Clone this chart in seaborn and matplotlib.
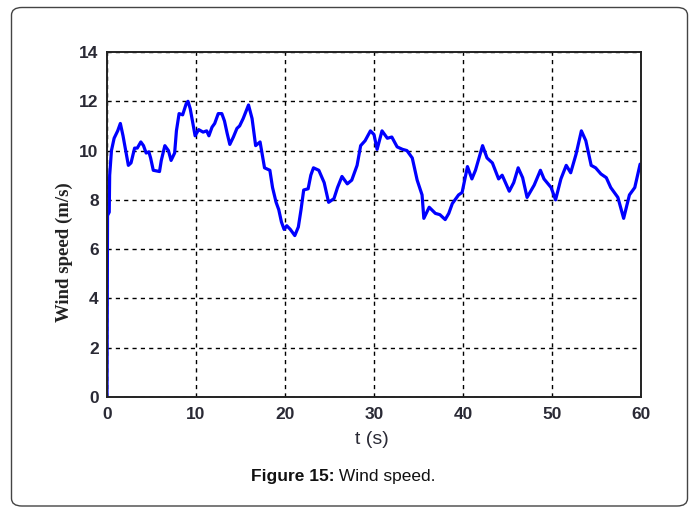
import matplotlib
matplotlib.use("Agg")
import matplotlib.pyplot as plt
import seaborn as sns
import pandas as pd
from matplotlib.patches import FancyBboxPatch

# Data
time_s = [0.0, 0.03, 0.06, 0.1, 0.25, 0.3, 0.5, 0.8, 1.2, 1.5, 1.8, 2.1, 2.4, 2.7, 3.1, 3.4,
          3.8, 4.1, 4.4, 4.7, 4.9, 5.2, 5.9, 6.1, 6.5, 6.9, 7.2, 7.6, 7.8, 8.1, 8.5, 8.9,
          9.1, 9.35, 9.6, 9.9, 10.3, 10.8, 11.2, 11.45, 11.8, 12.1, 12.5, 12.9, 13.2, 13.5,
          13.8, 14.2, 14.6, 14.9, 15.3, 15.9, 16.3, 16.7, 17.2, 17.7, 18.3, 18.6, 19.0, 19.3,
          19.6, 19.9, 20.2, 20.6, 21.1, 21.5, 21.8, 22.1, 22.6, 22.9, 23.2, 23.8, 24.4, 24.9,
          25.5, 25.9, 26.4, 27.0, 27.5, 28.1, 28.5, 29.0, 29.6, 30.0, 30.35, 30.9, 31.5, 32.0,
          32.6, 33.2, 33.7, 34.3, 34.85, 35.4, 35.6, 36.2, 36.9, 37.4, 38.0, 38.4, 38.8, 39.5,
          39.9, 40.5, 41.0, 41.4, 42.2, 42.7, 43.3, 44.0, 44.4, 45.2, 45.7, 46.2, 46.7, 47.2,
          48.0, 48.7, 49.1, 49.9, 50.4, 51.0, 51.6, 52.1, 52.7, 53.3, 53.8, 54.4, 54.9, 55.5,
          56.1, 56.6, 57.4, 58.05, 58.7, 59.3, 59.9]
wind_speed = [0.0, 4.5, 7.4, 7.4, 7.5, 9.0, 10.0, 10.5, 10.8, 11.1, 10.6, 10.0, 9.4, 9.5, 10.1, 10.1,
              10.35, 10.2, 9.9, 9.95, 9.7, 9.2, 9.15, 9.6, 10.2, 10.0, 9.6, 9.9, 10.8, 11.5, 11.45, 11.9,
              12.0, 11.7, 11.2, 10.6, 10.85, 10.75, 10.8, 10.6, 10.95, 11.1, 11.5, 11.5, 11.2, 10.7,
              10.25, 10.55, 10.9, 11.0, 11.3, 11.85, 11.3, 10.2, 10.35, 9.3, 9.2, 8.5, 7.9, 7.6,
              7.1, 6.8, 6.95, 6.8, 6.55, 6.9, 7.6, 8.4, 8.45, 9.0, 9.3, 9.2, 8.7, 7.9,
              8.05, 8.5, 8.95, 8.65, 8.8, 9.4, 10.2, 10.4, 10.8, 10.65, 10.05, 10.8, 10.5, 10.55,
              10.15, 10.05, 10.0, 9.7, 8.8, 8.2, 7.25, 7.7, 7.45, 7.4, 7.2, 7.45, 7.85, 8.2,
              8.3, 9.35, 8.85, 9.2, 10.2, 9.7, 9.5, 8.85, 9.0, 8.35, 8.7, 9.3, 8.9, 8.1,
              8.6, 9.2, 8.85, 8.5, 8.0, 8.85, 9.4, 9.1, 9.85, 10.8, 10.4, 9.4, 9.3, 9.05,
              8.9, 8.5, 8.1, 7.25, 8.2, 8.5, 9.45]
x_ticks = [0, 10, 20, 30, 40, 50, 60]
y_ticks = [0, 2, 4, 6, 8, 10, 12, 14]
x_label = "t (s)"
y_label = "Wind speed (m/s)"
caption_bold = "Figure 15:"
caption_rest = " Wind speed."

df = pd.DataFrame({"t": time_s, "v": wind_speed})

sns.set_style("white")
plt.rcParams["font.family"] = ["Liberation Sans", "DejaVu Sans"]

fig = plt.figure(figsize=(6.96, 5.07), dpi=100)
ax = fig.add_axes([107 / 696, 1 - 397 / 507, (641 - 107) / 696, (397 - 52) / 507])

sns.lineplot(data=df, x="t", y="v", ax=ax, color="#0000ff", linewidth=2.3,
             sort=False, estimator=None)

ax.set_xlim(0, 60)
ax.set_ylim(0, 14)
ax.set_xticks(x_ticks)
ax.set_yticks(y_ticks)
ax.set_xticklabels([str(v) for v in x_ticks])
ax.set_yticklabels([str(v) for v in y_ticks])
ax.tick_params(axis="both", direction="in", length=0, labelsize=12.5,
               labelcolor="#2a2a35")
ax.tick_params(axis="x", pad=7)
ax.tick_params(axis="y", pad=6)
for lab in ax.get_xticklabels() + ax.get_yticklabels():
    lab.set_fontweight("bold")

ax.grid(True, color="black", linestyle=(0, (3, 3)), linewidth=1.0)
for s in ax.spines.values():
    s.set_visible(True)
    s.set_color("#222222")
    s.set_linewidth(1.4)

ax.set_xlabel("")
ax.set_ylabel("")
fig.text(372 / 696, 1 - 440 / 507, x_label, ha="center", va="center",
         fontsize=14, color="#2a2a35")
fig.text(64 / 696, 1 - 252 / 507, y_label, ha="center", va="center",
         rotation=90, fontsize=13.5, family="Liberation Serif", fontweight="bold",
         color="#222222")

t1 = fig.text(251 / 696, 1 - 477 / 507, caption_bold, ha="left", va="center",
              fontsize=12.5, fontweight="bold", color="#111111")
fig.canvas.draw()
bb = t1.get_window_extent()
fig.text(bb.x1 / 696, 1 - 477 / 507, caption_rest, ha="left", va="center",
         fontsize=12.5, color="#111111")

border = FancyBboxPatch((11.5 / 696, 1 - 506 / 507), (687.5 - 11.5) / 696, (506 - 7.5) / 507,
                        boxstyle="round,pad=0,rounding_size=0.015",
                        transform=fig.transFigure, fill=False,
                        edgecolor="#444444", linewidth=1.0)
fig.patches.append(border)

fig.savefig("out.png", dpi=100)
